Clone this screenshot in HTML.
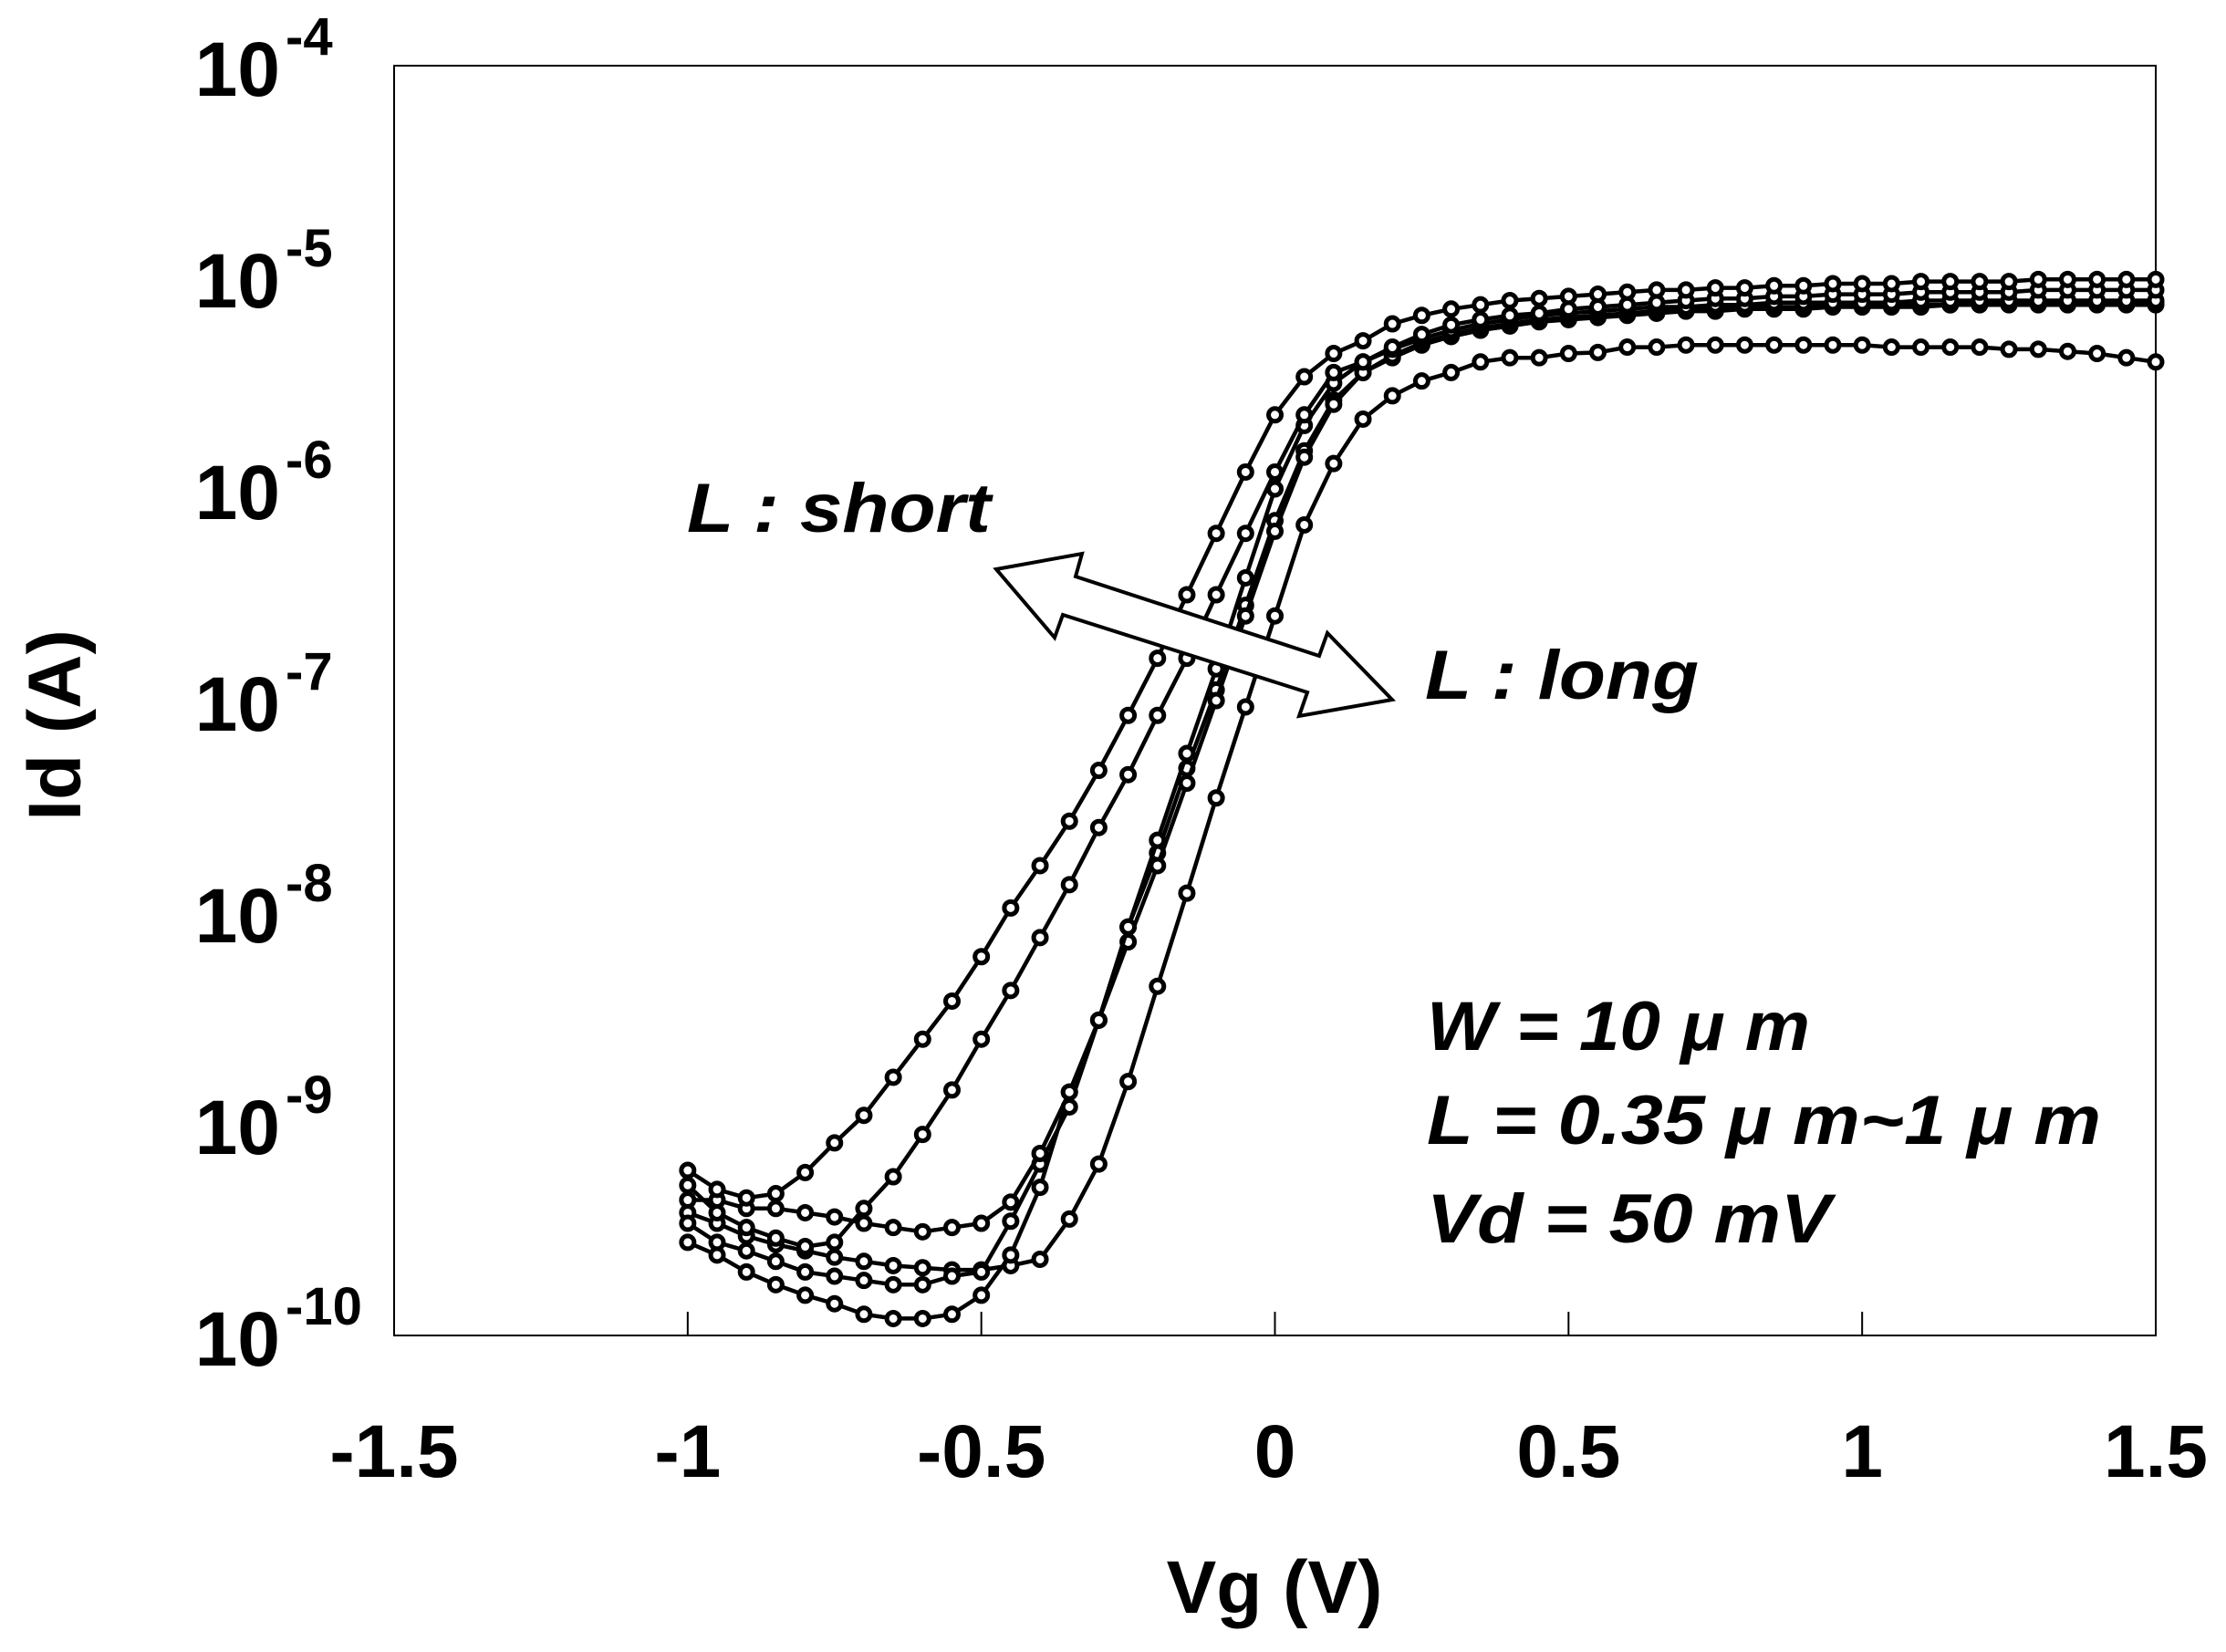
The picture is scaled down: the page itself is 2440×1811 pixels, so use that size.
<!DOCTYPE html>
<html><head><meta charset="utf-8"><style>
html,body{margin:0;padding:0;background:#fff;}
svg{display:block;}
text{font-family:"Liberation Sans",Arial,sans-serif;font-weight:bold;fill:#000;}
</style></head><body>
<svg id="chart" width="2440" height="1811" viewBox="0 0 2440 1811" xmlns="http://www.w3.org/2000/svg">
<rect x="0" y="0" width="2440" height="1811" fill="#fff"/>
<rect x="432" y="72" width="1931" height="1392" fill="none" stroke="#000" stroke-width="2"/>
<g id="xticks"></g>
<g id="yticks"></g>
<g id="series"></g>
<text x="1397" y="1768" font-size="82" text-anchor="middle">Vg (V)</text>
<text transform="translate(88,795) rotate(-90)" font-size="82" text-anchor="middle">Id (A)</text>
<polygon points="1092,624 1186,607 1179,632 1446,719 1455,694 1526,767 1424,785 1433,759 1165,674 1156,699" fill="#fff" stroke="#000" stroke-width="4" stroke-linejoin="miter"/>
<text x="753" y="583" font-size="76" font-style="italic" textLength="333" lengthAdjust="spacingAndGlyphs">L : short</text>
<text x="1562" y="766" font-size="76" font-style="italic" textLength="300" lengthAdjust="spacingAndGlyphs">L : long</text>
<text x="1564" y="1151" font-size="76" font-style="italic" textLength="420" lengthAdjust="spacingAndGlyphs">W = 10 μ m</text>
<text x="1564" y="1254" font-size="76" font-style="italic" textLength="739" lengthAdjust="spacingAndGlyphs">L = 0.35  μ m~1 μ m</text>
<text x="1564" y="1362" font-size="76" font-style="italic" textLength="443" lengthAdjust="spacingAndGlyphs">Vd = 50 mV</text>
</svg>
<script>
const vgStart = -1.0;
const vgStep = 0.05;
const xTickValues = [-1.5, -1, -0.5, 0, 0.5, 1, 1.5];
const xTickLabels = ["-1.5", "-1", "-0.5", "0", "0.5", "1", "1.5"];
const yTickExponents = [-4, -5, -6, -7, -8, -9, -10];
const seriesA = [-9.22,-9.31,-9.35,-9.33,-9.23,-9.09,-8.96,-8.78,-8.60,-8.42,-8.21,-7.98,-7.78,-7.57,-7.33,-7.07,-6.80,-6.50,-6.21,-5.92,-5.65,-5.47,-5.36,-5.30,-5.22,-5.18,-5.15,-5.13,-5.11,-5.10,-5.09,-5.08,-5.07,-5.06,-5.06,-5.05,-5.05,-5.04,-5.04,-5.03,-5.03,-5.03,-5.02,-5.02,-5.02,-5.02,-5.01,-5.01,-5.01,-5.01,-5.01];
const seriesB = [-9.29,-9.42,-9.49,-9.54,-9.58,-9.56,-9.40,-9.25,-9.05,-8.84,-8.60,-8.37,-8.12,-7.87,-7.60,-7.35,-7.07,-6.80,-6.50,-6.21,-5.92,-5.65,-5.45,-5.40,-5.33,-5.27,-5.225,-5.20,-5.18,-5.17,-5.15,-5.14,-5.13,-5.12,-5.11,-5.10,-5.10,-5.09,-5.09,-5.08,-5.08,-5.08,-5.07,-5.07,-5.07,-5.07,-5.06,-5.06,-5.06,-5.06,-5.06];
const seriesC = [-9.36,-9.36,-9.40,-9.40,-9.42,-9.44,-9.47,-9.49,-9.51,-9.49,-9.47,-9.37,-9.14,-8.85,-8.51,-8.07,-7.66,-7.25,-6.85,-6.42,-6.00,-5.70,-5.50,-5.40,-5.34,-5.29,-5.25,-5.22,-5.20,-5.18,-5.17,-5.16,-5.15,-5.14,-5.14,-5.13,-5.13,-5.12,-5.12,-5.12,-5.12,-5.12,-5.11,-5.11,-5.11,-5.11,-5.11,-5.11,-5.11,-5.11,-5.11];
const seriesD = [-9.47,-9.56,-9.60,-9.65,-9.70,-9.72,-9.74,-9.76,-9.76,-9.72,-9.70,-9.46,-9.19,-8.92,-8.51,-8.14,-7.78,-7.39,-7.00,-6.60,-6.20,-5.85,-5.60,-5.45,-5.37,-5.31,-5.27,-5.24,-5.22,-5.20,-5.19,-5.18,-5.17,-5.16,-5.15,-5.15,-5.14,-5.14,-5.14,-5.13,-5.13,-5.13,-5.13,-5.13,-5.12,-5.12,-5.12,-5.12,-5.12,-5.12,-5.12];
const seriesE = [-9.56,-9.62,-9.70,-9.76,-9.81,-9.85,-9.90,-9.92,-9.92,-9.90,-9.81,-9.62,-9.30,-8.85,-8.51,-8.07,-7.72,-7.32,-6.95,-6.55,-6.15,-5.82,-5.58,-5.45,-5.38,-5.32,-5.28,-5.25,-5.23,-5.21,-5.20,-5.19,-5.18,-5.17,-5.16,-5.16,-5.15,-5.15,-5.15,-5.14,-5.14,-5.14,-5.14,-5.13,-5.13,-5.13,-5.13,-5.13,-5.13,-5.13,-5.13];
const seriesF = [-9.42,-9.47,-9.53,-9.57,-9.60,-9.63,-9.65,-9.67,-9.68,-9.69,-9.69,-9.67,-9.64,-9.45,-9.19,-8.80,-8.35,-7.91,-7.46,-7.03,-6.60,-6.17,-5.88,-5.67,-5.56,-5.49,-5.45,-5.40,-5.38,-5.38,-5.36,-5.355,-5.33,-5.33,-5.32,-5.32,-5.32,-5.32,-5.32,-5.32,-5.32,-5.33,-5.33,-5.33,-5.33,-5.34,-5.34,-5.35,-5.36,-5.38,-5.40];

const NS = "http://www.w3.org/2000/svg";
const PL = 432, PR = 2363, PT = 72, PB = 1464;
function xScale(v){ return PL + (v + 1.5) / 3 * (PR - PL); }
function yScale(lg){ return PB - (lg + 10) / 6 * (PB - PT); }

const xt = document.getElementById('xticks');
xTickValues.forEach((v, i) => {
  const x = xScale(v);
  if (i > 0 && i < xTickValues.length - 1) {
    const t = document.createElementNS(NS, 'line');
    t.setAttribute('x1', x); t.setAttribute('x2', x);
    t.setAttribute('y1', PB - 26); t.setAttribute('y2', PB);
    t.setAttribute('stroke', '#000'); t.setAttribute('stroke-width', '2');
    
    
    xt.appendChild(t);
  }
  const lb = document.createElementNS(NS, 'text');
  lb.setAttribute('x', x); lb.setAttribute('y', 1619);
  lb.setAttribute('font-size', '82'); lb.setAttribute('text-anchor', 'middle');
  lb.textContent = xTickLabels[i];
  
  
  xt.appendChild(lb);
});

const yt = document.getElementById('yticks');
yTickExponents.forEach(e => {
  const y = yScale(e);
  const tx = document.createElementNS(NS, 'text');
  tx.setAttribute('x', 307); tx.setAttribute('y', y + 33);
  tx.setAttribute('font-size', '84'); tx.setAttribute('text-anchor', 'end');
  tx.textContent = '10';
  
  
  yt.appendChild(tx);
  const sp = document.createElementNS(NS, 'text');
  sp.setAttribute('x', 313); sp.setAttribute('y', y - 12);
  sp.setAttribute('font-size', '58');
  sp.textContent = String(e);
  
  
  yt.appendChild(sp);
});

const sg = document.getElementById('series');
const allSeries = [seriesF, seriesE, seriesD, seriesC, seriesB, seriesA];
const names = ['series-l-long', 'series-e', 'series-d', 'series-c', 'series-b', 'series-l-short'];
allSeries.forEach((arr, si) => {
  const g = document.createElementNS(NS, 'g');
  
  
  const pts = arr.map((lg, i) => xScale(vgStart + i * vgStep).toFixed(1) + ',' + yScale(lg).toFixed(1));
  const pl = document.createElementNS(NS, 'polyline');
  pl.setAttribute('points', pts.join(' '));
  pl.setAttribute('fill', 'none'); pl.setAttribute('stroke', '#000');
  pl.setAttribute('stroke-width', '4.5'); pl.setAttribute('stroke-linejoin', 'round');
  
  
  g.appendChild(pl);
  arr.forEach((lg, i) => {
    const c = document.createElementNS(NS, 'circle');
    c.setAttribute('cx', xScale(vgStart + i * vgStep));
    c.setAttribute('cy', yScale(lg));
    c.setAttribute('r', '7');
    c.setAttribute('fill', '#fff'); c.setAttribute('stroke', '#000'); c.setAttribute('stroke-width', '5');
    
    
    g.appendChild(c);
  });
  sg.appendChild(g);
});
</script>
</body></html>
